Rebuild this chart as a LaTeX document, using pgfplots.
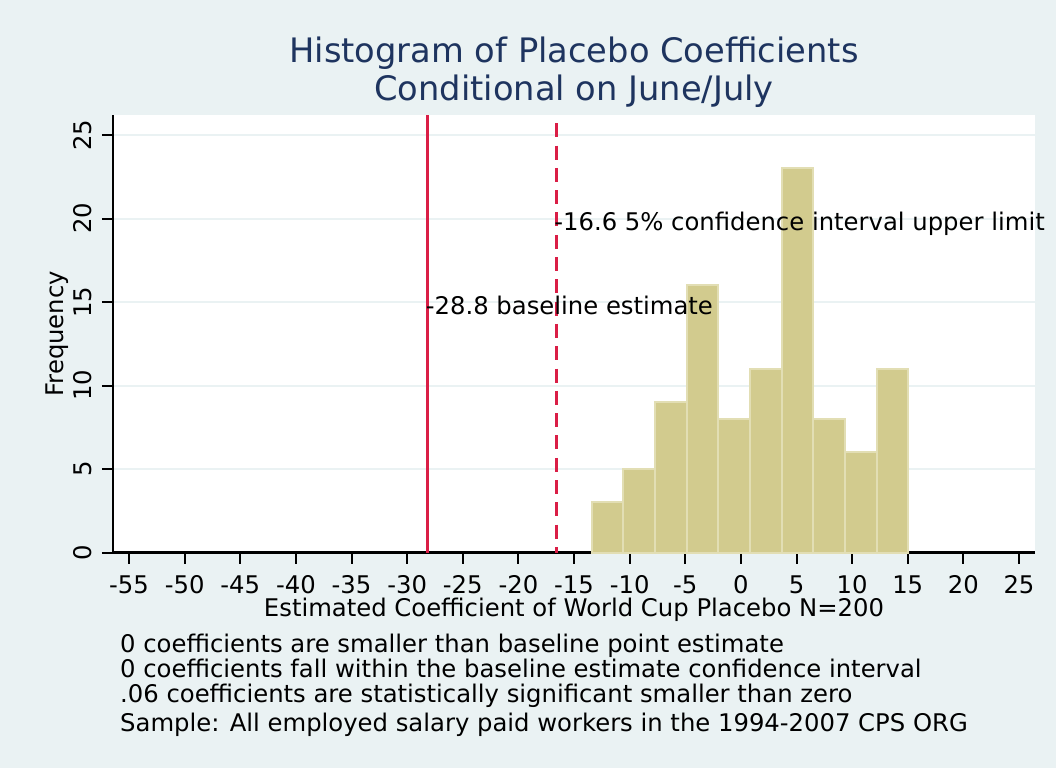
\documentclass[border=0pt]{standalone}
\usepackage{fontspec}
\setmainfont{DejaVu Sans}
\usepackage{pgfplots}
\pgfplotsset{compat=1.18}
\definecolor{bgc}{RGB}{234,242,243}
\definecolor{gridc}{RGB}{234,242,243}
\definecolor{barfill}{RGB}{210,203,142}
\definecolor{barline}{RGB}{226,222,180}
\definecolor{redl}{RGB}{218,30,70}
\definecolor{titlec}{RGB}{30,52,95}
\newcommand{\txt}{\fontsize{24.3}{25}\selectfont}
\begin{document}
\begin{tikzpicture}[x=1pt,y=1pt]
\path[use as bounding box, fill=bgc] (0,0) rectangle (1056,768);
\begin{axis}[
  at={(113pt,215.5pt)}, anchor=south west,
  scale only axis, width=922pt, height=437.5pt,
  xmin=-56.44, xmax=26.44, ymin=0, ymax=26.2,
  clip=false,
  axis x line*=bottom, axis y line*=left,
  axis line style={line width=2.5pt, black, -},
  axis background/.style={fill=white},
  ymajorgrids, grid style={gridc, line width=2pt},
  tick align=outside, major tick length=11pt,
  tick style={line width=2pt, black},
  xtick={-55,-50,...,25},
  xticklabels={-55,-50,-45,-40,-35,-30,-25,-20,-15,-10,-5,0,5,10,15,20,25},
  ytick={0,5,...,25},
  yticklabels={0,5,10,15,20,25},
  ticklabel style={font=\txt},
  xticklabel style={anchor=base, inner sep=0pt},
  xticklabel shift=29.5pt,
  yticklabel style={rotate=90, anchor=base, inner sep=0pt},
  yticklabel shift=10.3pt,
  xlabel={Estimated Coefficient of World Cup Placebo N=200},
  xlabel style={at={(axis description cs:0.5,-0.14514)}, anchor=base, inner sep=0pt, font=\txt},
  ylabel={Frequency},
  ylabel style={at={(axis description cs:-0.05423,0.5)}, rotate=0, anchor=base, inner sep=0pt, font=\txt},
  title={Histogram of Placebo Coefficients\\Conditional on June/July},
  title style={at={(axis description cs:0.5,1.01829)}, anchor=base, align=center, inner sep=0pt,
    text=titlec, font=\fontsize{33.7}{38}\selectfont},
]
\addplot[ybar interval, fill=barfill, draw=barline, line width=2pt] coordinates {
  (-13.41,3) (-10.564,5) (-7.718,9) (-4.872,16) (-2.026,8) (0.82,11)
  (3.666,23) (6.512,8) (9.358,6) (12.204,11) (15.05,11)
};
\addplot[redl, line width=3pt] coordinates {(-28.15,0) (-28.15,26.2)};
\addplot[redl, line width=3pt, dash pattern=on 14pt off 8.3pt, dash phase=14pt] coordinates {(-16.6,26.2) (-16.6,0)};
\node[anchor=base west, inner sep=0pt, font=\txt, xshift=-2pt, yshift=-12pt] at (axis cs:-28.15,15) {-28.8 baseline estimate};
\node[anchor=base west, inner sep=0pt, font=\txt, xshift=-2pt, yshift=-12pt] at (axis cs:-16.6,20) {-16.6 5\% confidence interval upper limit};
\node[anchor=base west, align=left, inner sep=0pt, font=\txt] at (axis description cs:0.00759,-0.408)
  {0 coefficients are smaller than baseline point estimate\\
   0 coefficients fall within the baseline estimate confidence interval\\
   .06 coefficients are statistically significant smaller than zero\\[4pt]
   Sample: All employed salary paid workers in the 1994-2007 CPS ORG};
\end{axis}
\end{tikzpicture}
\end{document}
